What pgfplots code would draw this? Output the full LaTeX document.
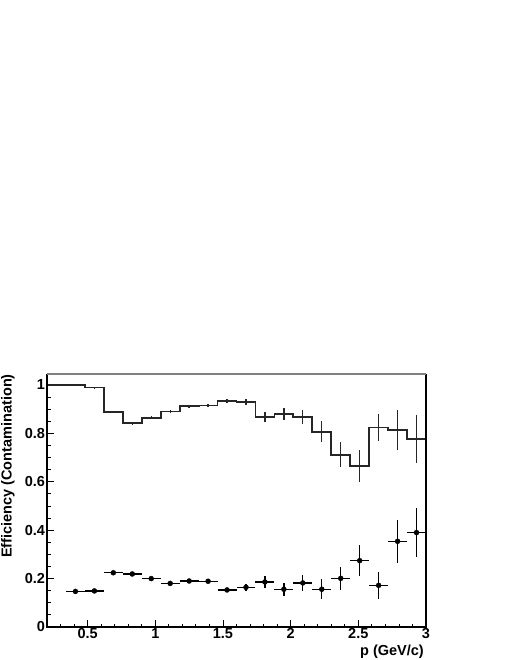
\documentclass[border=0pt]{standalone}
\usepackage{pgfplots}
\pgfplotsset{compat=1.18}
\usepackage{fontspec}
\setmainfont{Liberation Sans}
\begin{document}
\begin{tikzpicture}[x=1pt,y=1pt]
\path[use as bounding box] (0,0) rectangle (510,660);
\begin{axis}[
  at={(47pt,33pt)}, anchor=south west,
  scale only axis, width=379pt, height=253pt,
  xmin=0.2, xmax=3, ymin=0, ymax=1.045,
  xtick={0.5,1,1.5,2,2.5,3},
  xticklabels={0.5,1,1.5,2,2.5,3},
  minor xtick={0.3,0.4,0.6,0.7,0.8,0.9,1.1,1.2,1.3,1.4,1.6,1.7,1.8,1.9,2.1,2.2,2.3,2.4,2.6,2.7,2.8,2.9},
  ytick={0,0.2,0.4,0.6,0.8,1},
  yticklabels={0,0.2,0.4,0.6,0.8,1},
  minor ytick={0.05,0.1,0.15,0.25,0.3,0.35,0.45,0.5,0.55,0.65,0.7,0.75,0.85,0.9,0.95},
  xtick pos=bottom, ytick pos=left, tick align=inside,
  major tick length=7pt, minor tick length=3.5pt,
  tick style={black, line width=0.8pt},
  axis line style={draw=none},
  ticklabel style={font=\fontsize{14.5}{16}\selectfont\bfseries},
  xticklabel style={yshift=2pt},
  yticklabel style={xshift=1.5pt},
  clip=false,
]
% efficiency histogram
\addplot[const plot mark left, line width=1.8pt, color=black!85, mark=none] coordinates {
(0.20,1.000) (0.34,1.000) (0.48,0.989) (0.62,0.888) (0.76,0.842)
(0.90,0.864) (1.04,0.890) (1.18,0.912) (1.32,0.915) (1.46,0.934)
(1.60,0.930) (1.74,0.869) (1.88,0.879) (2.02,0.868) (2.16,0.807)
(2.30,0.712) (2.44,0.665) (2.58,0.824) (2.72,0.815) (2.86,0.776)
(3.00,0.776)};
% efficiency error bars
\addplot[draw=none, mark=none,
  error bars/.cd, y dir=both, y explicit,
  error bar style={draw=black!85, line width=1.3pt}, error mark=none] coordinates {
(0.41,1.000) +- (0,0.002)
(0.55,0.989) +- (0,0.003)
(0.69,0.888) +- (0,0.005)
(0.83,0.842) +- (0,0.006)
(0.97,0.864) +- (0,0.006)
(1.11,0.890) +- (0,0.007)
(1.25,0.912) +- (0,0.006)
(1.39,0.915) +- (0,0.007)
(1.53,0.934) +- (0,0.009)
(1.67,0.930) +- (0,0.011)
(1.81,0.869) +- (0,0.021)
(1.95,0.879) +- (0,0.024)
(2.09,0.868) +- (0,0.029)
(2.23,0.807) +- (0,0.044)
(2.37,0.712) +- (0,0.052)
(2.51,0.665) +- (0,0.067)
(2.65,0.824) +- (0,0.056)
(2.79,0.815) +- (0,0.083)
(2.93,0.776) +- (0,0.098)};
% contamination
\addplot[only marks, mark=*, mark size=2.5pt, color=black,
  error bars/.cd, x dir=both, x explicit, y dir=both, y explicit,
  error bar style={line width=1.3pt}, error mark=none] coordinates {
(0.41,0.147) +- (0.07,0.003)
(0.55,0.149) +- (0.07,0.003)
(0.69,0.224) +- (0.07,0.004)
(0.83,0.219) +- (0.07,0.004)
(0.97,0.200) +- (0.07,0.005)
(1.11,0.180) +- (0.07,0.006)
(1.25,0.190) +- (0.07,0.006)
(1.39,0.189) +- (0.07,0.008)
(1.53,0.153) +- (0.07,0.010)
(1.67,0.164) +- (0.07,0.015)
(1.81,0.186) +- (0.07,0.023)
(1.95,0.156) +- (0.07,0.027)
(2.09,0.182) +- (0.07,0.032)
(2.23,0.156) +- (0.07,0.041)
(2.37,0.201) +- (0.07,0.048)
(2.51,0.274) +- (0.07,0.064)
(2.65,0.172) +- (0.07,0.056)
(2.79,0.354) +- (0.07,0.089)
(2.93,0.390) +- (0.07,0.101)};
% frame
\draw[black, line width=1.2pt] (rel axis cs:0,1) -- (rel axis cs:0,0) -- (rel axis cs:1,0) -- (rel axis cs:1,1);
\draw[black!50, line width=1.5pt] (rel axis cs:0,1) -- (rel axis cs:1,1);
\end{axis}
\node[rotate=90, anchor=north east, inner sep=0pt, font=\fontsize{14.5}{16}\selectfont\bfseries] at (1,286) {Efficiency (Contamination)};
\node[anchor=base east, inner sep=0pt, font=\fontsize{14.5}{16}\selectfont\bfseries] at (424,5) {p (GeV/c)};
\end{tikzpicture}
\end{document}
